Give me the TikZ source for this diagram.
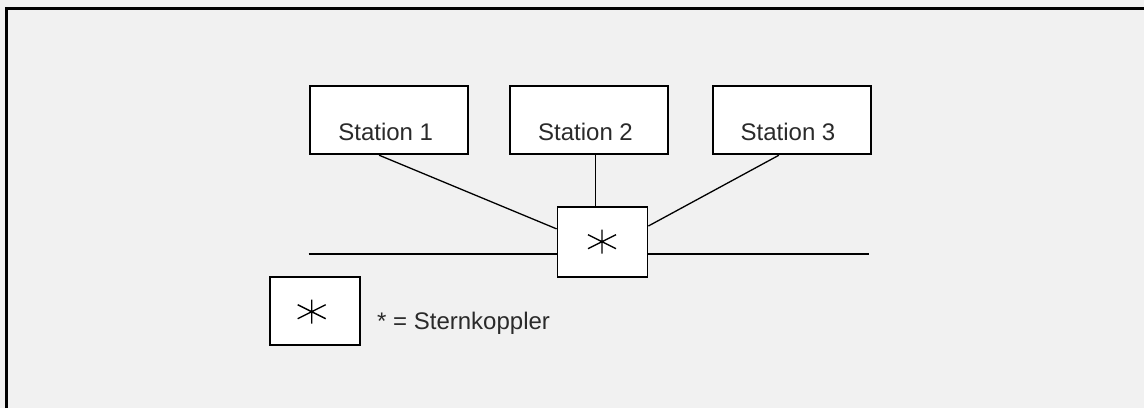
\documentclass[tikz,border=0pt]{standalone}
\usepackage{fontspec}
\setmainfont{Liberation Sans}
\usetikzlibrary{calc}
\definecolor{bg}{HTML}{F1F1F1}
\definecolor{txt}{HTML}{2A2A2A}
\begin{document}
\begin{tikzpicture}[x=1pt,y=-1pt,
  box/.style={draw=black, line width=1.8pt, fill=white, minimum width=158pt, minimum height=68pt, inner sep=0pt},
  lbl/.style={font=\fontsize{24}{28}\selectfont, text=txt, anchor=base, inner sep=0pt},
  wire/.style={line width=1.3pt},
  sternstar/.pic={\draw[line width=1.4pt] (0,-12) -- (0,12) (-14,-7) -- (14,7) (-14,7) -- (14,-7);}
  ]
\fill[bg] (0,0) rectangle (1144,408);
\useasboundingbox (0,0) rectangle (1144,408);
\draw[line width=3pt] (6.5,408) -- (6.5,8.5) -- (1144,8.5);

% stations
\node[box] (s1) at (388.7,120.3) {};
\node[box] (s2) at (588.8,120.3) {};
\node[box] (s3) at (791.7,120.3) {};
\node[lbl] (t1) at (385.7,140) {Station 1};
\node[lbl] (t2) at (585.5,140) {Station 2};
\node[lbl] (t3) at (788,140) {Station 3};

% star coupler
\node[box, minimum width=90pt, minimum height=70pt] (k) at (602.5,241.8) {};
\pic at (602,241.7) {sternstar};

% connectors
\draw[wire] ($(s1.south west)!0.44!(s1.south east)$) -- ($(k.north west)!0.32!(k.south west)$);
\coordinate (p2) at ($(s2.south west)!0.54!(s2.south east)$);
\draw[wire] (p2) -- (p2 |- k.north);
\draw[wire] ($(s3.south west)!0.42!(s3.south east)$) -- ($(k.north east)!0.28!(k.south east)$);

% bus
\coordinate (busL) at (308.7,254);
\coordinate (busR) at (869,254);
\draw[wire] (busL) -- (busL -| k.west);
\draw[wire] (k.east |- busR) -- (busR);

% legend
\node[box, minimum width=90pt, minimum height=68pt] (lg) at (314.7,311) {};
\pic at (311.7,311.7) {sternstar};
\node[lbl, anchor=base west] (lt) at (377,329) {* = Sternkoppler};
\end{tikzpicture}
\end{document}
